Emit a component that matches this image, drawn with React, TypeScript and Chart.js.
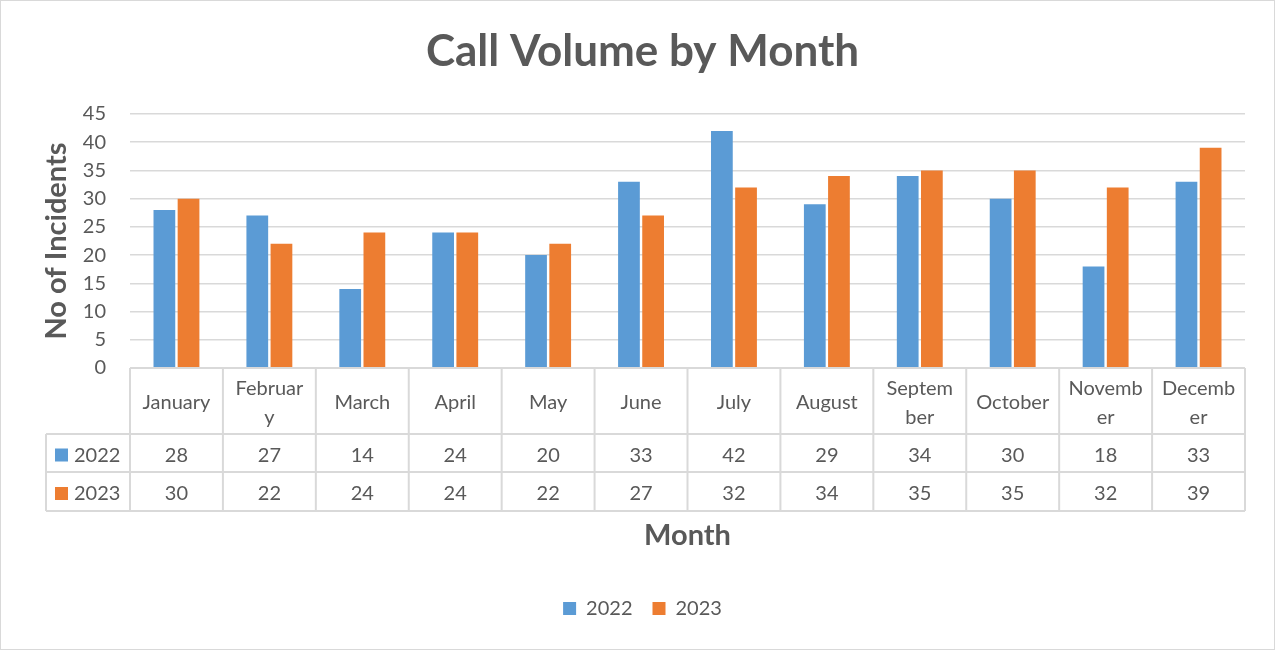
import React, { useEffect, useRef } from "react";
import { Chart, registerables } from "chart.js";

Chart.register(...registerables);

const months: string[][] = [
  ["January"], ["Februar", "y"], ["March"], ["April"], ["May"], ["June"],
  ["July"], ["August"], ["Septem", "ber"], ["October"], ["Novemb", "er"], ["Decemb", "er"],
];
const series2022: number[] = [28, 27, 14, 24, 20, 33, 42, 29, 34, 30, 18, 33];
const series2023: number[] = [30, 22, 24, 24, 22, 27, 32, 34, 35, 35, 32, 39];
const seriesNames: string[] = ["2022", "2023"];
const yTicks = { min: 0, max: 45, step: 5 };

const FONT = "Lato, 'Open Sans', sans-serif";
const TEXT = "#595959";
const GRID = "#D9D9D9";
const BLUE = "#5B9BD5";
const ORANGE = "#ED7D31";

const tablePlugin = {
  id: "dataTable",
  beforeDraw(chart: any) {
    const { ctx, width, height } = chart;
    ctx.save();
    ctx.fillStyle = "#ffffff";
    ctx.fillRect(0, 0, width, height);
    ctx.strokeStyle = GRID;
    ctx.lineWidth = 1;
    ctx.strokeRect(0.5, 0.5, width - 1, height - 1);
    ctx.restore();
  },
  afterDraw(chart: any) {
    const { ctx, chartArea } = chart;
    const x = chart.scales.x;
    const n = chart.data.labels.length;
    const w = x.getPixelForValue(1) - x.getPixelForValue(0);
    const top = chartArea.bottom;
    const hdrBottom = top + 66;
    const r1Bottom = top + 104;
    const r2Bottom = top + 143;
    const leftCol = 46;
    ctx.save();
    ctx.strokeStyle = GRID;
    ctx.lineWidth = 2;
    ctx.beginPath();
    ctx.moveTo(chartArea.left, top);
    ctx.lineTo(chartArea.right, top);
    [hdrBottom, r1Bottom, r2Bottom].forEach((y) => {
      ctx.moveTo(leftCol, y);
      ctx.lineTo(chartArea.right, y);
    });
    ctx.moveTo(leftCol, hdrBottom);
    ctx.lineTo(leftCol, r2Bottom);
    for (let i = 0; i <= n; i++) {
      const bx = x.getPixelForValue(0) - w / 2 + i * w;
      ctx.moveTo(bx, top);
      ctx.lineTo(bx, r2Bottom);
    }
    ctx.stroke();

    ctx.fillStyle = TEXT;
    ctx.font = `20px ${FONT}`;
    ctx.textAlign = "center";
    ctx.textBaseline = "middle";
    const hdrMid = (top + hdrBottom) / 2 + 2;
    const lh = 29;
    chart.data.labels.forEach((lab: string[], i: number) => {
      const cx = x.getPixelForValue(i);
      const lines = Array.isArray(lab) ? lab : [lab];
      const start = hdrMid - ((lines.length - 1) * lh) / 2;
      lines.forEach((t, j) => ctx.fillText(t, cx, start + j * lh));
    });
    const rows = [[hdrBottom, r1Bottom], [r1Bottom, r2Bottom]];
    chart.data.datasets.forEach((ds: any, k: number) => {
      const my = (rows[k][0] + rows[k][1]) / 2 + 2.5;
      ctx.fillStyle = ds.backgroundColor;
      ctx.fillRect(55, my - 7, 13, 13);
      ctx.fillStyle = TEXT;
      ctx.textAlign = "left";
      ctx.fillText(ds.label, 74, my);
      ctx.textAlign = "center";
      ds.data.forEach((v: number, i: number) => {
        ctx.fillText(String(v), x.getPixelForValue(i), my);
      });
    });
    ctx.restore();
  },
};

export default function App() {
  const ref = useRef<HTMLCanvasElement>(null);
  useEffect(() => {
    if (!ref.current) return;
    const chart = new Chart(ref.current, {
      type: "bar",
      data: {
        labels: months,
        datasets: [
          { label: seriesNames[0], data: series2022, backgroundColor: BLUE, categoryPercentage: 0.52, barPercentage: 0.9 },
          { label: seriesNames[1], data: series2023, backgroundColor: ORANGE, categoryPercentage: 0.52, barPercentage: 0.9 },
        ],
      },
      options: {
        animation: false,
        responsive: false,
        layout: { padding: { left: 24, right: 14, top: 0, bottom: 21.5 } },
        plugins: {
          title: {
            display: true,
            text: "Call Volume by Month",
            color: TEXT,
            font: { family: FONT, size: 44, weight: "bold" },
            padding: { top: 25.6, bottom: 35.6 },
          },
          legend: {
            position: "bottom",
            labels: {
              color: TEXT,
              font: { family: FONT, size: 20 },
              boxWidth: 13,
              boxHeight: 13,
              padding: 20,
            },
          },
          tooltip: { enabled: false },
        },
        scales: {
          x: {
            grid: { display: false },
            border: { display: false },
            ticks: { display: false },
            title: {
              display: true,
              text: "Month",
              color: TEXT,
              font: { family: FONT, size: 29, weight: "bold" },
              padding: { top: 0, bottom: 25.1 },
            },
            afterFit: (s: any) => { s.height = 210.5; },
          },
          y: {
            min: yTicks.min,
            max: yTicks.max,
            ticks: { stepSize: yTicks.step, color: TEXT, font: { family: FONT, size: 20 }, padding: 24 },
            grid: { color: GRID, lineWidth: 1.5, drawTicks: false },
            border: { display: false },
            title: {
              display: true,
              text: "No of Incidents",
              color: TEXT,
              font: { family: FONT, size: 29, weight: "bold" },
              padding: { top: 15.6, bottom: 0 },
            },
            afterFit: (s: any) => { s.width = 106; },
          },
          y2: {
            position: "right",
            display: true,
            ticks: { display: false },
            grid: { display: false },
            border: { display: false },
            afterFit: (s: any) => { s.width = 16; },
          },
        },
      },
      plugins: [tablePlugin],
    } as any);
    return () => chart.destroy();
  }, []);
  return (
    <div style={{ position: "fixed", left: 0, top: 0, width: 1275, height: 650 }}>
      <canvas ref={ref} width={1275} height={650} style={{ display: "block" }} />
    </div>
  );
}
